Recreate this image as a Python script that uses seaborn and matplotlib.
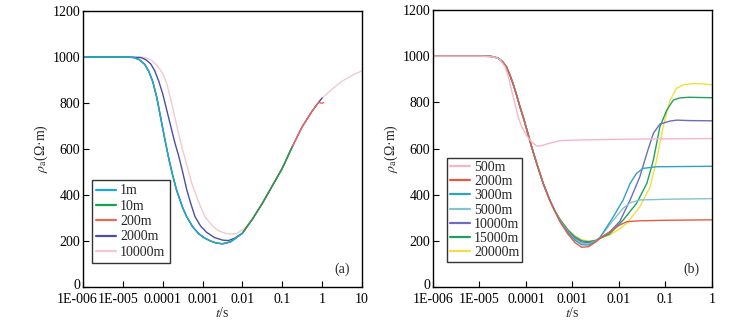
import numpy as np
import pandas as pd
import matplotlib
matplotlib.use('Agg')
import matplotlib.pyplot as plt
import matplotlib.transforms as mtransforms
import seaborn as sns

# ---- panel (a): log10(t/s) and rho_a (Ohm.m) ----
A_NEAR_LOGT = [-6.0, -5.0, -4.74, -4.6, -4.45, -4.35, -4.25, -4.15, -4.05, -3.95, -3.85,
               -3.75, -3.65, -3.5, -3.4, -3.25, -3.1, -2.95, -2.8, -2.65, -2.5, -2.3, -2.0]
A_NEAR_RHO = [1000, 1000, 998, 990, 968, 938, 893, 825, 735, 645, 560,
              485, 420, 345, 306, 262, 232, 213, 200, 191, 188, 196, 234]
A_RISE_LOGT = [-1.75, -1.5, -1.25, -1.0, -0.75, -0.5, -0.25]
A_RISE_RHO = [295, 364, 440, 516, 610, 697, 765]
A_200_HOOK_LOGT = [-0.15, -0.08, -0.04, 0.0, 0.04]
A_200_HOOK_RHO = [790, 803, 800, 799, 802]
A_2000_LOGT = [-6.0, -5.0, -4.55, -4.42, -4.3, -4.2, -4.1, -4.0, -3.9, -3.8, -3.7,
               -3.6, -3.5, -3.4, -3.3, -3.19, -3.05, -2.9, -2.7, -2.5, -2.35, -2.2, -2.0]
A_2000_RHO = [1000, 1000, 998, 988, 970, 940, 895, 840, 770, 700, 630,
              570, 500, 425, 365, 306, 265, 238, 215, 204, 202, 212, 234]
A_2000_END_LOGT = [-0.1, 0.0]
A_2000_END_RHO = [800, 822]
A_10000_LOGT = [-6.0, -5.0, -4.45, -4.3, -4.15, -4.0, -3.9, -3.8, -3.7, -3.6, -3.5,
                -3.38, -3.27, -3.1, -2.94, -2.75, -2.6, -2.45, -2.3, -2.15, -1.95]
A_10000_RHO = [1000, 1000, 998, 988, 965, 928, 885, 818, 740, 665, 596,
               520, 451, 370, 306, 265, 245, 234, 230, 232, 255]
A_10000_END_LOGT = [-0.1, 0.0, 0.25, 0.5, 0.75, 1.0]
A_10000_END_RHO = [800, 822, 860, 895, 920, 940]

A_LABELS = ['1m', '10m', '200m', '2000m', '10000m']
A_COLORS = ['#1ea6e0', '#16a050', '#ec6a55', '#4a4ea8', '#f2c8d2']

# ---- panel (b) ----
B_500_LOGT = [-6.0, -5.0, -4.78, -4.65, -4.56, -4.45, -4.38, -4.31, -4.24, -4.17, -4.09,
              -3.98, -3.88, -3.77, -3.7, -3.56, -3.27, -2.85, -2.0, -1.0, 0.0]
B_500_RHO = [1000, 1000, 998, 995, 985, 954, 911, 853, 796, 738, 694,
             654, 629, 611, 610, 619, 634, 637, 640, 642, 643]
B_DESC_LOGT = [-6.0, -5.0, -4.75, -4.6, -4.5, -4.42, -4.35, -4.28, -4.2, -4.13, -4.05,
               -3.98, -3.88, -3.77, -3.63, -3.49, -3.38]
B_DESC_RHO = [1000, 1000, 999, 992, 975, 954, 920, 882, 830, 781, 730,
              680, 608, 536, 449, 377, 330]
B_MIN_LOGT = [-3.27, -3.1, -2.95, -2.8, -2.65, -2.5, -2.41]
B_2000_MIN = [283, 230, 193, 172, 175, 195, 211]
B_3000_MIN = [287, 237, 203, 183, 182, 198, 213]
B_5000_MIN = [289, 240, 207, 189, 187, 200, 215]
B_10000_MIN = [291, 243, 212, 195, 192, 200, 211]
B_15000_MIN = [293, 247, 218, 200, 196, 202, 211]
B_20000_MIN = [295, 250, 222, 205, 199, 203, 211]
B_2000_UP_LOGT = [-2.19, -1.98, -1.83, -1.55, -1.0, 0.0]
B_2000_UP_RHO = [240, 269, 283, 287, 289, 291]
B_3000_UP_LOGT = [-2.12, -1.91, -1.76, -1.62, -1.48, -1.19, 0.0]
B_3000_UP_RHO = [305, 377, 449, 493, 514, 521, 523]
B_5000_UP_LOGT = [-2.12, -1.91, -1.76, -1.55, -1.05, 0.0]
B_5000_UP_RHO = [290, 341, 365, 377, 380, 383]
B_10000_UP_LOGT = [-2.2, -1.98, -1.76, -1.55, -1.4, -1.26, -1.12, -0.9, -0.75, -0.5, 0.0]
B_10000_UP_RHO = [238, 285, 377, 478, 579, 666, 706, 719, 723, 721, 720]
B_15000_UP_LOGT = [-2.2, -1.91, -1.62, -1.4, -1.26, -1.12, -0.97, -0.83, -0.69, -0.5, 0.0]
B_15000_UP_RHO = [230, 290, 363, 449, 550, 694, 767, 810, 819, 822, 820]
B_20000_UP_LOGT = [-2.2, -2.0, -1.83, -1.55, -1.33, -1.19, -1.05, -0.9, -0.76, -0.6, -0.4, -0.2, 0.0]
B_20000_UP_RHO = [225, 250, 276, 348, 434, 550, 694, 810, 861, 877, 881, 880, 876]

B_LABELS = ['500m', '2000m', '3000m', '5000m', '10000m', '15000m', '20000m']
B_COLORS = ['#f2b8c8', '#e85a40', '#2ea2c4', '#84c2cc', '#6c6cc0', '#20a060', '#f0e040']

A_XTICKS = ['1E-006', '1E-005', '0.0001', '0.001', '0.01', '0.1', '1', '10']
B_XTICKS = ['1E-006', '1E-005', '0.0001', '0.001', '0.01', '0.1', '1']
Y_TICKS = [0, 200, 400, 600, 800, 1000, 1200]


def join(*parts):
    out = []
    for p in parts:
        out += list(p)
    return out


curves_a = {
    '1m': (A_NEAR_LOGT, A_NEAR_RHO),
    '10m': (join(A_NEAR_LOGT, A_RISE_LOGT[:5]), join(A_NEAR_RHO, A_RISE_RHO[:5])),
    '200m': (join(A_NEAR_LOGT, A_RISE_LOGT, A_200_HOOK_LOGT),
             join(A_NEAR_RHO, A_RISE_RHO, A_200_HOOK_RHO)),
    '2000m': (join(A_2000_LOGT, A_RISE_LOGT, A_2000_END_LOGT),
              join(A_2000_RHO, A_RISE_RHO, A_2000_END_RHO)),
    '10000m': (join(A_10000_LOGT, A_RISE_LOGT, A_10000_END_LOGT),
               join(A_10000_RHO, A_RISE_RHO, A_10000_END_RHO)),
}
curves_b = {
    '500m': (B_500_LOGT, B_500_RHO),
    '2000m': (join(B_DESC_LOGT, B_MIN_LOGT, B_2000_UP_LOGT), join(B_DESC_RHO, B_2000_MIN, B_2000_UP_RHO)),
    '3000m': (join(B_DESC_LOGT, B_MIN_LOGT, B_3000_UP_LOGT), join(B_DESC_RHO, B_3000_MIN, B_3000_UP_RHO)),
    '5000m': (join(B_DESC_LOGT, B_MIN_LOGT, B_5000_UP_LOGT), join(B_DESC_RHO, B_5000_MIN, B_5000_UP_RHO)),
    '10000m': (join(B_DESC_LOGT, B_MIN_LOGT, B_10000_UP_LOGT), join(B_DESC_RHO, B_10000_MIN, B_10000_UP_RHO)),
    '15000m': (join(B_DESC_LOGT, B_MIN_LOGT, B_15000_UP_LOGT), join(B_DESC_RHO, B_15000_MIN, B_15000_UP_RHO)),
    '20000m': (join(B_DESC_LOGT, B_MIN_LOGT, B_20000_UP_LOGT), join(B_DESC_RHO, B_20000_MIN, B_20000_UP_RHO)),
}

sns.set_style('white')
plt.rcParams.update({
    'font.family': 'serif',
    'font.serif': ['Liberation Serif', 'DejaVu Serif'],
    'mathtext.fontset': 'stix',
    'font.size': 10,
    'axes.edgecolor': 'black',
    'axes.linewidth': 1.0,
    'xtick.direction': 'in',
    'ytick.direction': 'in',
    'xtick.bottom': True,
    'ytick.left': True,
    'xtick.major.size': 4,
    'ytick.major.size': 4,
})

fig = plt.figure(figsize=(7.38, 3.26), dpi=100)
ax_a = fig.add_axes([0.1125, 0.1196, 0.378, 0.8466])
ax_b = fig.add_axes([0.5867, 0.1196, 0.378, 0.8497])


def draw(ax, curves, labels, colors, loc_anchor, tag, xticks, xmax_exp, spacing, bpad):
    # draw in reverse so the first series ends up on top
    for lab, col in reversed(list(zip(labels, colors))):
        logt, rho = curves[lab]
        df = pd.DataFrame({'t': np.power(10.0, logt), 'rho': rho})
        sns.lineplot(data=df, x='t', y='rho', ax=ax, color=col, lw=1.0,
                     sort=False, estimator=None)
    ax.set_xscale('log')
    ax.set_xlim(1e-6, 10.0 ** xmax_exp)
    ax.set_ylim(0, 1200)
    ax.set_xticks([10.0 ** e for e in range(-6, xmax_exp + 1)])
    ax.set_xticklabels(xticks)
    ax.minorticks_off()
    ax.set_yticks(Y_TICKS)
    ax.set_yticklabels([str(v) for v in Y_TICKS])
    ax.tick_params(axis='both', labelsize=10, colors='black')
    ax.tick_params(axis='x', pad=4)
    ax.tick_params(axis='y', pad=2)
    ax.set_xlabel(r'$t$/s', fontsize=10, labelpad=0)
    ax.set_ylabel(r'$\rho_{\mathrm{a}}$(Ω·m)', fontsize=10, labelpad=2)
    handles = [plt.Line2D([], [], color=c, lw=1.6) for c in colors]
    leg = ax.legend(handles, labels, loc='lower left', bbox_to_anchor=loc_anchor,
                    frameon=True, fancybox=False, fontsize=10, handlelength=1.45,
                    handletextpad=0.3, labelspacing=spacing, borderpad=bpad,
                    borderaxespad=0)
    leg.get_frame().set_edgecolor('black')
    leg.get_frame().set_linewidth(1.0)
    ax.text(0.955, 0.04, tag, transform=ax.transAxes, ha='right', va='bottom', fontsize=10)
    # "0" sits slightly above the axis corner, clear of the first x label
    zero = ax.get_yticklabels()[0]
    zero.set_transform(zero.get_transform() +
                       mtransforms.ScaledTranslation(0, 3 / 100, fig.dpi_scale_trans))


draw(ax_a, curves_a, A_LABELS, A_COLORS, (0.031, 0.087), '(a)', A_XTICKS, 1, 0.17, 0.3)
draw(ax_b, curves_b, B_LABELS, B_COLORS, (0.05, 0.090), '(b)', B_XTICKS, 0, 0.09, 0.2)

# the first two labels of panel (a) sit a little left of their ticks
for lbl, dx in zip(ax_a.get_xticklabels()[:2], [-6, -4.5]):
    lbl.set_transform(lbl.get_transform() +
                      mtransforms.ScaledTranslation(dx / 100, 0, fig.dpi_scale_trans))

fig.savefig('out.png', dpi=100)
